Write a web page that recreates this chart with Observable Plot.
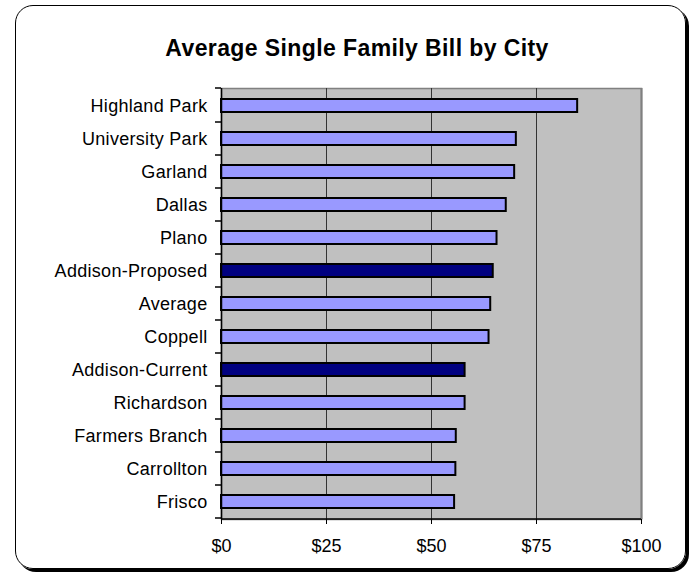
<!DOCTYPE html>
<html>
<head>
<meta charset="utf-8">
<script src="https://cdn.jsdelivr.net/npm/d3@7"></script>
<script src="https://cdn.jsdelivr.net/npm/@observablehq/plot@0.6"></script>
<style>
  html, body { margin: 0; padding: 0; background: #fff; }
  #wrap { position: relative; width: 691px; height: 574px; overflow: hidden; font-family: "Liberation Sans", Arial, sans-serif; }
  #border { position: absolute; left: 15px; top: 5px; width: 669px; height: 562px; border: 1.5px solid #000; border-radius: 18px; box-shadow: 3px 3px 0 #000; }
  #title { position: absolute; left: 0; width: 714px; top: 37px; text-align: center; font-size: 23px; font-weight: bold; line-height: 1; letter-spacing: 0.4px; color: #000; }
  #chart { position: absolute; left: 0; top: 0; }
  #chart g[aria-label="y-axis tick label"] text { letter-spacing: 0.3px; }
</style>
</head>
<body>
<div id="wrap">
  <div id="border"></div>
  <div id="title">Average Single Family Bill by City</div>
  <div id="chart"></div>
</div>
<script>
const cities = ["Highland Park","University Park","Garland","Dallas","Plano","Addison-Proposed","Average","Coppell","Addison-Current","Richardson","Farmers Branch","Carrollton","Frisco"];
const bills = [84.8, 70.2, 69.8, 67.8, 65.6, 64.7, 64.1, 63.7, 58.0, 58.0, 55.9, 55.8, 55.5];
const highlighted = ["Addison-Proposed", "Addison-Current"];
const xTicks = [0, 25, 50, 75, 100];
const gridValues = [25, 50, 75];

const data = cities.map((c, i) => ({city: c, bill: bills[i], hi: highlighted.includes(c)}));

const chart = Plot.plot({
  width: 691,
  height: 574,
  marginLeft: 221,
  marginRight: 50,
  marginTop: 88,
  marginBottom: 55,
  style: {fontFamily: "'Liberation Sans', Arial, sans-serif", background: "transparent", color: "#000"},
  x: {domain: [0, 100]},
  y: {domain: cities, paddingInner: 0.6, paddingOuter: 0.3},
  color: {type: "identity"},
  marks: [
    Plot.frame({fill: "#c0c0c0", stroke: "#808080", strokeWidth: 1.5}),
    Plot.ruleX(gridValues, {stroke: "#333", strokeWidth: 1}),
    Plot.ruleX([100], {stroke: "#808080", strokeWidth: 2}),
    Plot.barX(data, {x: "bill", y: "city", fill: d => d.hi ? "#000080" : "#9999ff", stroke: "#000", strokeWidth: 2}),
    Plot.ruleX([0], {stroke: "#000", strokeWidth: 1.5}),
    Plot.axisX({ticks: xTicks, tickFormat: d => "$" + d, tickSize: 5, tickPadding: 15, fontSize: 18, label: null}),
    Plot.axisY({tickSize: 0, tickPadding: 14, fontSize: 18, label: null})
  ]
});
document.getElementById("chart").appendChild(chart);

// axis line at bottom and category-boundary ticks, positioned from the plot's own scales
const xs = chart.scale("x"), ys = chart.scale("y");
const svg = d3.select(chart);
const x0 = xs.apply(0), x1 = xs.apply(100);
const yBottom = ys.range[1], yTop = ys.range[0];
const g = svg.append("g").attr("stroke", "#000").attr("stroke-width", 1.5);
g.append("line").attr("x1", x0).attr("x2", x1).attr("y1", yBottom).attr("y2", yBottom);
const step = ys.step, bw = ys.bandwidth;
const bounds = [yTop].concat(cities.map(c => ys.apply(c) + bw + (step - bw) / 2));
bounds.forEach(y => g.append("line").attr("x1", x0 - 6).attr("x2", x0).attr("y1", y).attr("y2", y));
</script>
</body>
</html>
